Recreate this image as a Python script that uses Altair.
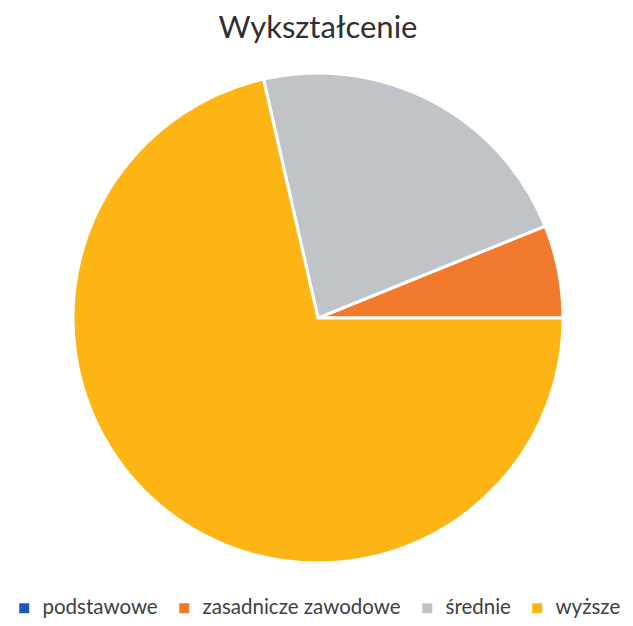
import math
import altair as alt
import pandas as pd

categories = ["podstawowe", "zasadnicze zawodowe", "średnie", "wyższe"]
counts = [0, 3, 11, 35]
draw_order = [3, 2, 1, 0]
colors = ["#2159B2", "#F27A2C", "#C0C4C8", "#FDB515"]

df = pd.DataFrame({"kat": categories, "n": counts, "ord": draw_order})

chart = (
    alt.Chart(df, title=alt.Title("Wykształcenie", fontSize=31, font="Lato",
                                  fontWeight="normal", color="#303030",
                                  anchor="middle", offset=22))
    .mark_arc(stroke="white", strokeWidth=3)
    .encode(
        theta=alt.Theta("n:Q", stack=True,
                        scale=alt.Scale(range=[math.pi / 2, math.pi / 2 + 2 * math.pi])),
        color=alt.Color("kat:N",
                        scale=alt.Scale(domain=categories, range=colors),
                        legend=alt.Legend(title=None, orient="none",
                                          direction="horizontal",
                                          legendX=-59, legendY=525,
                                          symbolType="square", symbolSize=100,
                                          symbolStrokeWidth=0,
                                          labelFont="Lato", labelFontSize=20.5,
                                          labelLimit=400, gridAlign="none",
                                          labelColor="#404040", labelOffset=8,
                                          columnPadding=16)),
        order=alt.Order("ord:Q"),
    )
    .properties(width=490, height=490,
                autosize=alt.AutoSizeParams(type="none"),
                padding={"left": 65, "top": 65, "right": 62, "bottom": 55})
    .configure_view(stroke=None)
)

chart.save("out.html", embed_options={"renderer": "svg", "actions": False})
